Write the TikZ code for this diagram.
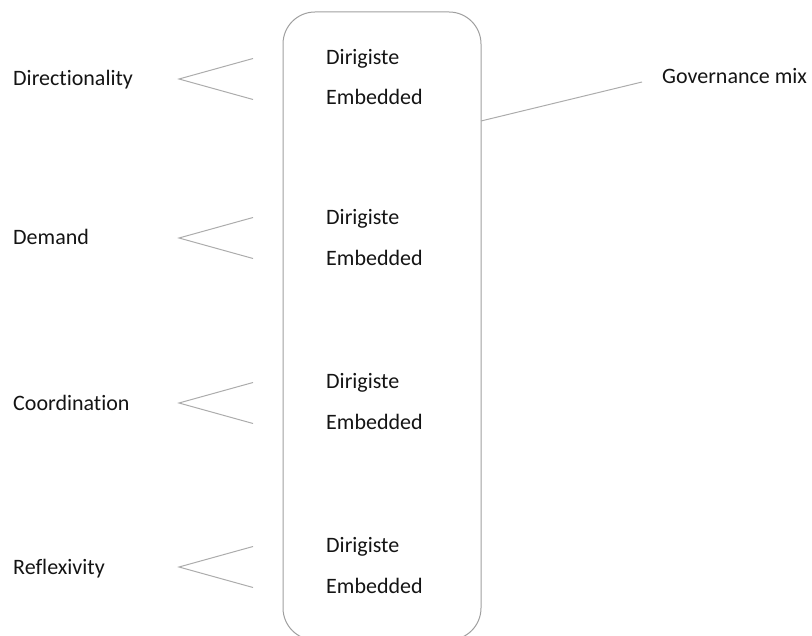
\documentclass[tikz,border=0pt]{standalone}
\usepackage{fontspec}
\setmainfont{Carlito}[Ligatures={NoCommon,NoRequired,NoContextual}]
\begin{document}
\begin{tikzpicture}[x=1pt,y=-1pt,
  lbl/.style={anchor=base west,inner sep=0pt,font=\fontsize{22}{26}\selectfont,text=black!92},
  conn/.style={draw=gray!65,line width=1pt},
  panel/.style={draw=gray!75,line width=1pt,rounded corners=32pt,minimum width=198pt,minimum height=628pt,inner sep=0pt}]
\useasboundingbox (0,0) rectangle (812,636);
\clip (0,0) rectangle (812,636);
% box
\node[panel] (box) at (382,326) {};
% left labels
\node[lbl] (dir) at (13,86) {Directionality};
\node[lbl] (dem) at (13,245) {Demand};
\node[lbl] (coo) at (13,411) {Coordination};
\node[lbl] (ref) at (13,574) {Reflexivity};
% inner labels
\node[lbl] (d1) at (326,65) {Dirigiste};
\node[lbl] (e1) at (326,105) {Embedded};
\node[lbl] (d2) at (326,225) {Dirigiste};
\node[lbl] (e2) at (326,266) {Embedded};
\node[lbl] (d3) at (326,389) {Dirigiste};
\node[lbl] (e3) at (326,430) {Embedded};
\node[lbl] (d4) at (326,552) {Dirigiste};
\node[lbl] (e4) at (326,593) {Embedded};
\node[lbl] (gov) at (662,84) {Governance mix};
% chevrons
\foreach \i/\c in {1/79,2/238,3/403,4/567}{
  \coordinate (a\i) at (179,\c);
  \coordinate (u\i) at (253,\c-20.5);
  \coordinate (l\i) at (253,\c+20.5);
  \draw[conn] (u\i) -- (a\i) -- (l\i);
}
% governance connector
\coordinate (gs) at (481,121);
\coordinate (ge) at (642,82);
\draw[conn] (gs) -- (ge);
\end{tikzpicture}
\end{document}
